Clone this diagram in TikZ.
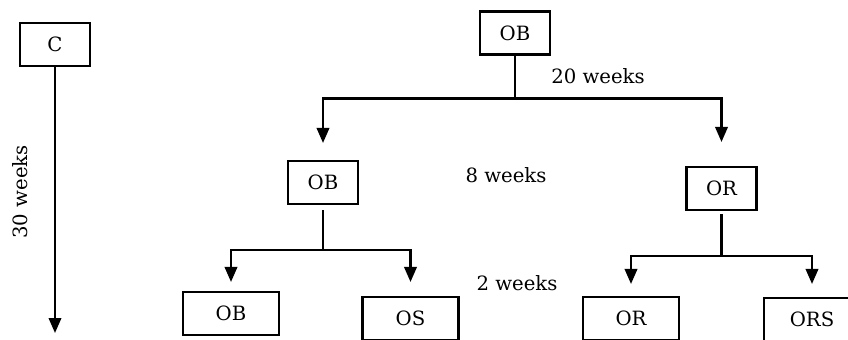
\documentclass[tikz,border=0pt]{standalone}
\usepackage{fontspec}
\setmainfont{DejaVu Serif}
\usetikzlibrary{arrows.meta}

\begin{document}
\begin{tikzpicture}[x=0.02cm, y=-0.02cm,
    font=\fontsize{11.2}{13}\selectfont,
    box/.style={draw, line width=1.2pt, inner sep=0pt, minimum width=1.4cm, minimum height=0.86cm},
    wide/.style={box, minimum width=1.92cm},
    link/.style={line width=1.2pt},
    arr/.style={link, -{Triangle[width=0.25cm,length=0.3cm]}}]
        \clip (0,0) rectangle (848,340);

        \node [box] (C) at (55,44.5) {C};
        \node [box] (OBtop) at (515,33) {OB};
        \node [box] (OBmid) at (323,182.5) {OB};
        \node [box] (ORmid) at (721.5,188.5) {OR};

        \node [wide] (OBbot) at (231,313.5) {OB};
        \node [wide] (OSbot) at (410.5,318.5) {OS};
        \node [wide] (ORbot) at (631,318.5) {OR};
        \node [wide] (ORSbot) at (812,319.5) {ORS};

        \node [rotate=90] (t30) at (20,192) {30 weeks};
        \node (t20) at (598,76) {20 weeks};
        \node (t8) at (506,175) {8 weeks};
        \node (t2) at (517,283) {2 weeks};

        % control line
        \coordinate (Cend) at (55,333);
        \draw [arr] (C.south) -- (Cend);

        % first split
        \draw [link] (OBtop.south) -- ++(0,43) coordinate (s1);
        \draw [arr, shorten >=0.34cm] (s1) -| (OBmid.north);
        \draw [arr, shorten >=0.48cm] (s1) -| (ORmid.north);

        % second split
        \draw [link, shorten <=0.1cm] (OBmid.south) -- ++(0,45) coordinate (s2);
        \draw [arr, shorten >=0.18cm] (s2) -| (OBbot.north);
        \draw [arr, shorten >=0.28cm] (s2) -| (OSbot.north);

        \draw [link, shorten <=0.06cm] (ORmid.south) -- ++(0,45) coordinate (s3);
        \draw [arr, shorten >=0.24cm] (s3) -| (ORbot.north);
        \draw [arr, shorten >=0.26cm] (s3) -| (ORSbot.north);
\end{tikzpicture}
\end{document}
